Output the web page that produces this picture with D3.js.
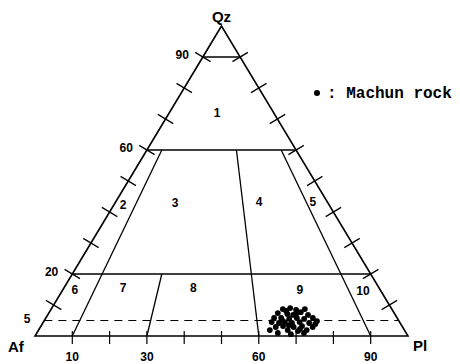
<!DOCTYPE html>
<html>
<head>
<meta charset="utf-8">
<script src="https://cdn.jsdelivr.net/npm/d3@7"></script>
<style>
  body { margin: 0; background: #fff; }
  text { font-family: "Liberation Sans", Arial, sans-serif; font-weight: bold; fill: #000; }
</style>
</head>
<body>
<svg id="chart" width="460" height="364"></svg>
<script>
// ---------------- DATA ----------------
const vertexNames = ["Qz", "Af", "Pl"];
const edgeTicks = [10, 20, 30, 40, 50, 60, 70, 80, 90];
const qzLabels = [90, 60, 20, 5];
const baseLabels = [10, 30, 60, 90];

// horizontal Qz boundaries (solid) and the dashed 5% line
const qzLines = [90, 60, 20];
const qzDashed = 5;

// Pl/(Af+Pl) boundaries, drawn from base up to the given Qz
const ratioLines = [10, 30, 60, 90];
const ratioTops = [60, 20, 60, 60];

// field numbers at [Qz, Pl]
const fieldNames = ["1", "2", "3", "4", "5", "6", "7", "8", "9", "10"];
const fieldQz = [71.9, 42.3, 42.9, 43.2, 43.2, 14.8, 15.5, 15.5, 14.8, 14.5];
const fieldPl = [12.9, 2.5, 16.1, 38.5, 52.9, 3.3, 15.9, 34.7, 63.6, 80.7];

// Machun rock samples
const machunQz = [8.7, 9.0, 8.4, 7.7, 7.4, 7.1, 6.8, 6.8, 5.8, 5.8, 5.8, 5.5, 5.8, 5.5, 4.8, 4.5, 4.2, 4.5, 4.2, 4.5,
  4.2, 2.9, 3.2, 2.9, 3.2, 2.9, 1.9, 1.9, 1.6, 1.9, 1.0, 0.6, 1.0, 8.1, 8.7, 7.4, 5.2, 2.3, 3.9, 3.5];
const machunPl = [62.1, 63.9, 65.8, 67.4, 61.4, 64.1, 65.8, 69.8, 71.6, 61.2, 63.1, 65.4, 67.3, 69.4, 73.2, 61.2, 63.3, 64.7, 66.8, 68.7,
  71.4, 63.1, 64.9, 67.9, 70.0, 73.0, 62.0, 66.8, 69.7, 71.9, 64.6, 68.3, 71.6, 63.3, 68.0, 66.5, 63.6, 69.9, 73.2, 66.3];

// ---------------- SCALES ----------------
const svg = d3.select("#chart");
const x = d3.scaleLinear().domain([0, 100]).range([35, 408]);
const y = d3.scaleLinear().domain([0, 100]).range([336, 26]);

// ternary (qz, pl) -> pixel
function proj(qz, pl) {
  return [x(pl + qz / 2), y(qz)];
}

const line = d3.line();

// ---------------- TRIANGLE ----------------
const apex = proj(100, 0), af = proj(0, 0), pl = proj(0, 100);
svg.append("path")
  .attr("d", line([apex, af, pl]) + "Z")
  .attr("fill", "none").attr("stroke", "#000").attr("stroke-width", 1.6)
  .attr("stroke-linejoin", "miter");

// ---------------- QZ LINES ----------------
qzLines.forEach(q => {
  svg.append("path")
    .attr("d", line([proj(q, 0), proj(q, 100 - q)]))
    .attr("stroke", "#000").attr("stroke-width", 1.4);
});
svg.append("path")
  .attr("d", line([proj(qzDashed, 0), proj(qzDashed, 100 - qzDashed)]))
  .attr("stroke", "#000").attr("stroke-width", 1.2)
  .attr("stroke-dasharray", "8,6");

// ---------------- RATIO LINES ----------------
ratioLines.forEach((r, i) => {
  const top = ratioTops[i];
  svg.append("path")
    .attr("d", line([proj(0, r), proj(top, (100 - top) * r / 100)]))
    .attr("stroke", "#000").attr("stroke-width", 1.3);
});

// ---------------- TICKS ----------------
const tl = 9;
edgeTicks.forEach(t => {
  // left edge (Af - Qz)
  const [lx, ly] = proj(t, 0);
  svg.append("line")
    .attr("x1", lx - 0.857 * tl).attr("y1", ly - 0.515 * tl)
    .attr("x2", lx + 0.857 * tl).attr("y2", ly + 0.515 * tl)
    .attr("stroke", "#000").attr("stroke-width", 1.2);
  // right edge (Pl - Qz)
  const [rx, ry] = proj(t, 100 - t);
  svg.append("line")
    .attr("x1", rx - 0.857 * tl).attr("y1", ry + 0.515 * tl)
    .attr("x2", rx + 0.857 * tl).attr("y2", ry - 0.515 * tl)
    .attr("stroke", "#000").attr("stroke-width", 1.2);
  // base
  const [bx, by] = proj(0, t);
  svg.append("line")
    .attr("x1", bx).attr("y1", by - 5)
    .attr("x2", bx).attr("y2", by + 8)
    .attr("stroke", "#000").attr("stroke-width", 1.2);
});

// ---------------- AXIS LABELS ----------------
qzLabels.forEach(q => {
  const [lx, ly] = proj(q, 0);
  svg.append("text")
    .attr("x", lx - 14).attr("y", ly + 2)
    .attr("text-anchor", "end").attr("font-size", 12)
    .text(q);
});
baseLabels.forEach(b => {
  const [bx, by] = proj(0, b);
  svg.append("text")
    .attr("x", bx).attr("y", by + 25)
    .attr("text-anchor", "middle").attr("font-size", 12)
    .text(b);
});

// vertex names
svg.append("text").attr("x", apex[0]).attr("y", apex[1] - 4)
  .attr("text-anchor", "middle").attr("font-size", 15).text(vertexNames[0]);
svg.append("text").attr("x", af[0] - 27).attr("y", af[1] + 16)
  .attr("font-size", 15).text(vertexNames[1]);
svg.append("text").attr("x", pl[0] + 5).attr("y", pl[1] + 15)
  .attr("font-size", 15).text(vertexNames[2]);

// ---------------- FIELD NUMBERS ----------------
fieldNames.forEach((f, i) => {
  const [fx, fy] = proj(fieldQz[i], fieldPl[i]);
  svg.append("text")
    .attr("x", fx).attr("y", fy + 4)
    .attr("text-anchor", "middle").attr("font-size", 12)
    .text(f);
});

// ---------------- SAMPLES ----------------
svg.selectAll("circle.sample")
  .data(machunQz.map((q, i) => ({ qz: q, pl: machunPl[i], af: 100 - q - machunPl[i] })))
  .join("circle")
  .attr("class", "sample")
  .attr("cx", d => proj(d.qz, d.pl)[0])
  .attr("cy", d => proj(d.qz, d.pl)[1])
  .attr("r", 2.9)
  .attr("fill", "#000");

// ---------------- LEGEND ----------------
svg.append("circle").attr("cx", 317).attr("cy", 93).attr("r", 3).attr("fill", "#000");
svg.append("text")
  .attr("x", 327).attr("y", 98)
  .style("font-family", "'Liberation Mono', 'DejaVu Sans Mono', monospace")
  .attr("font-size", 16)
  .text(": Machun rock");
</script>
</body>
</html>
